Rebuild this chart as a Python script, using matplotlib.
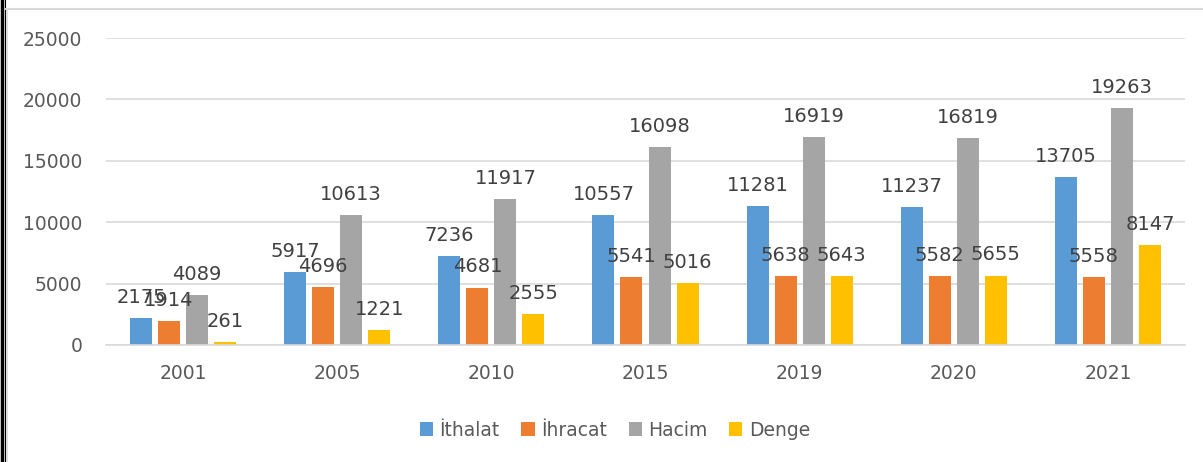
import numpy as np
import matplotlib
matplotlib.use('Agg')
import matplotlib.pyplot as plt
from matplotlib.lines import Line2D

years = ['2001', '2005', '2010', '2015', '2019', '2020', '2021']
ithalat = [2175, 5917, 7236, 10557, 11281, 11237, 13705]
ihracat = [1914, 4696, 4681, 5541, 5638, 5582, 5558]
hacim = [4089, 10613, 11917, 16098, 16919, 16819, 19263]
denge = [261, 1221, 2555, 5016, 5643, 5655, 8147]

series = [('İthalat', ithalat, '#5B9BD5'),
          ('İhracat', ihracat, '#ED7D31'),
          ('Hacim', hacim, '#A5A5A5'),
          ('Denge', denge, '#FFC000')]

plt.rc('font', family='DejaVu Sans')

W, H = 1203, 462
fig = plt.figure(figsize=(W / 100, H / 100), dpi=100)
ax = fig.add_axes([106 / W, 1 - 345 / H, (1185 - 106) / W, (345 - 38) / H])

x = np.arange(len(years))
bw = 0.143
step = 0.182
for i, (name, vals, col) in enumerate(series):
    pos = x + (i - 1.5) * step
    ax.bar(pos, vals, width=bw, color=col, label=name, zorder=2)
    for xp, v in zip(pos, vals):
        ax.annotate(str(v), (xp, v), xytext=(0, 8), textcoords='offset points',
                    ha='center', va='bottom', fontsize=14, color='#404040')

ax.set_xlim(-0.5, len(years) - 0.5)
ax.set_ylim(0, 25000)
ax.set_yticks(np.arange(0, 25001, 5000))
ax.set_xticks(x)
ax.set_xticklabels(years)
ax.grid(True, axis='y', color='#D9D9D9', lw=1.2, zorder=0)
ax.set_axisbelow(True)
for s in ['top', 'right', 'left']:
    ax.spines[s].set_visible(False)
ax.spines['bottom'].set_color('#D9D9D9')
ax.spines['bottom'].set_linewidth(1.2)
ax.tick_params(axis='both', length=0, labelsize=13.5, labelcolor='#595959')
ax.tick_params(axis='x', pad=14)
ax.tick_params(axis='y', pad=17)

fig.legend(loc='center', bbox_to_anchor=(615 / W, 1 - 430 / H), ncol=4,
           frameon=False, fontsize=13.5, handlelength=0.7, handleheight=0.7,
           handletextpad=0.35, columnspacing=1.15, labelcolor='#595959')

# outer frame
fig.add_artist(Line2D([1.5 / W, 1.5 / W], [0, 1], color='black', lw=2.5))
fig.add_artist(Line2D([4.5 / W, 4.5 / W], [0, 1], color='black', lw=0.8))
fig.add_artist(Line2D([6 / W, 1], [1 - 9 / H, 1 - 9 / H], color='#D9D9D9', lw=1.5))
fig.add_artist(Line2D([6.5 / W, 6.5 / W], [0, 1 - 9 / H], color='#D9D9D9', lw=1.2))

fig.savefig('out.png', dpi=100)
